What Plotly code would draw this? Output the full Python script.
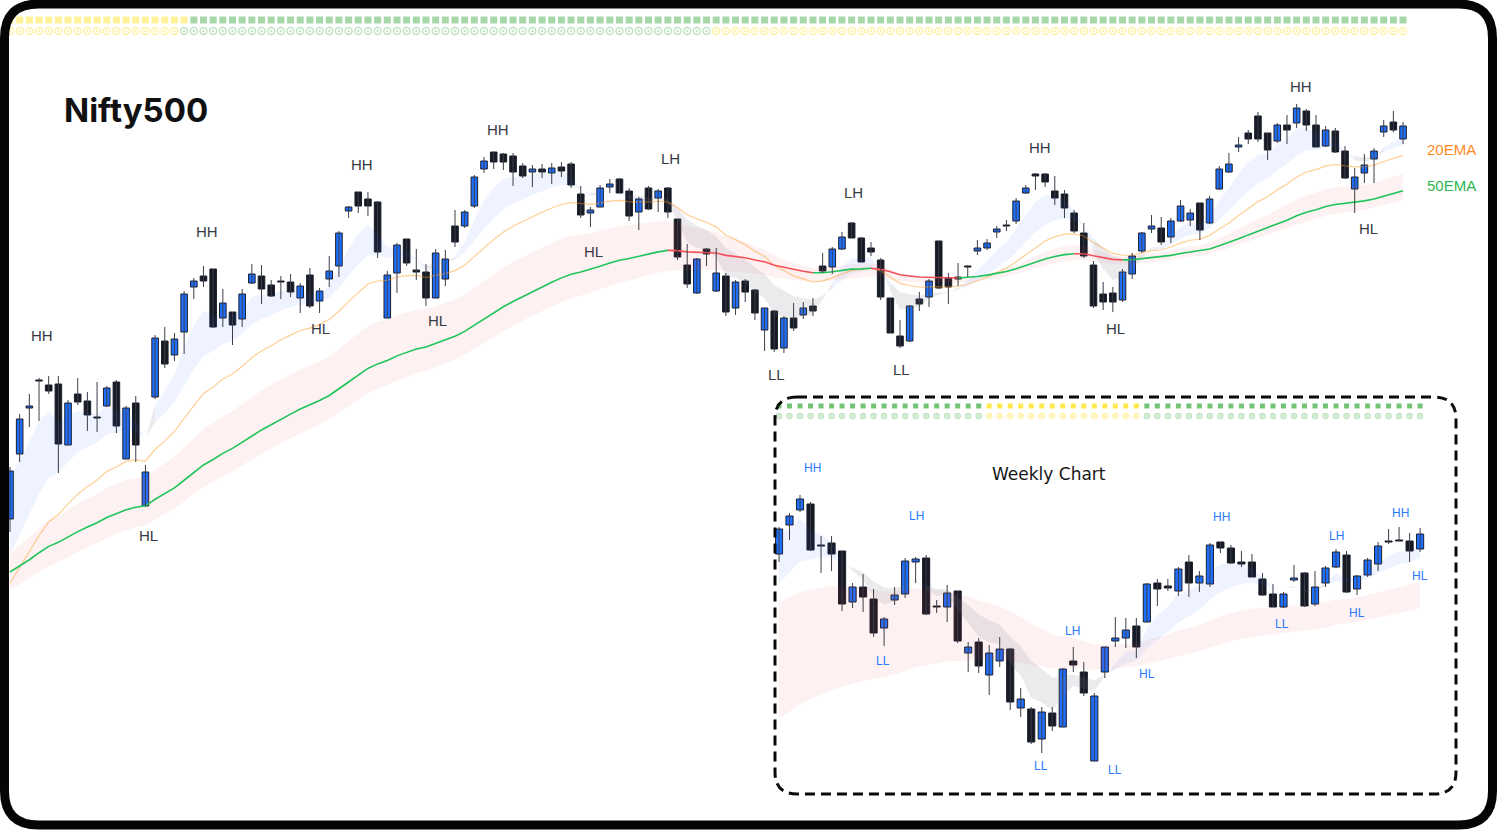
import plotly.graph_objects as go

FIG_W, FIG_H = 1498, 830

# ---------------- Daily Nifty500 candles ----------------
d_open = [481, 546, 592, 619, 615, 616, 555, 606, 599, 582,
          594, 618, 541, 597, 494, 603, 659, 645, 668, 713,
          724, 731, 682, 688, 681, 717, 724, 715, 718, 718,
          702, 725, 699, 721, 734, 789, 808, 801, 798, 682,
          727, 761, 730, 728, 702, 721, 774, 774, 794, 831,
          848, 846, 844, 834, 828, 831, 827, 833, 836, 806,
          787, 793, 813, 821, 809, 788, 812, 802, 812, 781,
          735, 707, 751, 709, 724, 692, 719, 710, 670, 689,
          652, 682, 685, 694, 734, 733, 751, 777, 762, 752,
          740, 702, 664, 659, 701, 703, 759, 722, 723, 733,
          749, 752, 768, 774, 779, 807, 826, 826, 809, 806,
          787, 767, 735, 706, 707, 700, 726, 749, 771, 772,
          763, 779, 780, 797, 777, 811, 828, 853, 867, 884,
          867, 859, 875, 877, 889, 875, 854, 869, 849, 811,
          827, 841, 868, 878, 861]
d_high = [533, 586, 606, 622, 624, 624, 600, 622, 608, 618,
          614, 620, 594, 604, 535, 665, 673, 667, 709, 722,
          734, 731, 711, 688, 711, 736, 735, 720, 724, 726,
          717, 732, 712, 744, 769, 794, 808, 808, 799, 729,
          757, 761, 751, 736, 751, 750, 790, 790, 825, 843,
          848, 847, 847, 837, 835, 836, 837, 838, 838, 814,
          793, 815, 821, 822, 812, 803, 814, 811, 813, 781,
          756, 742, 752, 752, 727, 720, 721, 711, 692, 690,
          684, 697, 698, 702, 747, 753, 768, 778, 763, 758,
          742, 702, 680, 695, 708, 721, 759, 727, 737, 735,
          760, 761, 774, 780, 802, 815, 827, 827, 824, 810,
          790, 777, 739, 718, 713, 731, 747, 768, 785, 783,
          782, 800, 791, 797, 804, 834, 847, 863, 870, 888,
          867, 877, 885, 896, 891, 885, 874, 872, 854, 832,
          846, 852, 880, 889, 878]
d_low = [468, 538, 573, 579, 606, 527, 555, 595, 569, 568,
         593, 567, 541, 538, 494, 601, 632, 639, 646, 701,
         713, 672, 673, 655, 673, 716, 696, 703, 701, 703,
         687, 692, 687, 713, 723, 782, 787, 784, 742, 682,
         707, 734, 720, 694, 702, 714, 753, 772, 792, 827,
         831, 830, 814, 822, 813, 822, 816, 823, 812, 782,
         773, 793, 807, 807, 779, 770, 790, 788, 782, 740,
         712, 706, 734, 708, 684, 685, 698, 680, 649, 648,
         647, 669, 681, 684, 727, 726, 750, 762, 738, 744,
         700, 667, 652, 658, 689, 693, 711, 696, 714, 723,
         745, 750, 762, 769, 776, 806, 810, 813, 795, 782,
         767, 742, 692, 690, 688, 698, 721, 747, 767, 755,
         757, 778, 774, 760, 776, 810, 827, 848, 856, 858,
         840, 857, 856, 872, 869, 853, 853, 847, 821, 787,
         817, 817, 863, 868, 856]
d_close = [529, 581, 594, 619, 609, 556, 597, 598, 585, 582,
           612, 574, 592, 555, 528, 662, 636, 661, 706, 719,
           719, 673, 697, 675, 706, 726, 711, 704, 718, 708,
           714, 694, 709, 729, 767, 793, 794, 794, 748, 725,
           755, 737, 728, 702, 747, 741, 758, 788, 823, 839,
           838, 838, 828, 824, 831, 828, 832, 829, 815, 785,
           790, 812, 816, 807, 784, 801, 791, 809, 788, 743,
           716, 741, 746, 727, 688, 718, 708, 687, 692, 651,
           682, 672, 692, 689, 729, 751, 763, 762, 738, 748,
           703, 667, 654, 694, 696, 719, 712, 713, 721, 733,
           752, 757, 771, 774, 799, 812, 824, 818, 802, 792,
           769, 744, 694, 698, 698, 728, 744, 767, 774, 758,
           779, 794, 787, 770, 801, 831, 836, 855, 861, 861,
           850, 875, 870, 892, 875, 853, 870, 848, 822, 823,
           835, 849, 874, 870, 874]

# EMA values at the first visible daily bar (carried over from earlier history)
d_ema_start = {5: 520, 12: 445, 20: 417, 34: 447, 50: 428, 60: 410}

# Swing labels on the daily chart: bar position, text, level
d_swing_pos = [3.3, 20.4, 36.4, 50.4, 68.3, 87.2, 106.5, 133.5,
               14.3, 32.1, 44.2, 60.3, 79.2, 92.2, 114.3, 140.4]
d_swing_text = ["HH", "HH", "HH", "HH", "LH", "LH", "HH", "HH",
                "HL", "HL", "HL", "HL", "LL", "LL", "HL", "HL"]
d_swing_level = [665, 769, 836, 871, 842, 808, 853, 914,
                 465, 672, 680, 749, 626, 631, 672, 772]

# Trend-state dots along the top of the daily chart (state, number of bars)
d_square_runs = [("bear", 19), ("bull", 126)]
d_circle_runs = [("bear", 18), ("bull", 55), ("bear", 72)]

# ---------------- Weekly candles ----------------
w_open = [446, 475, 490, 496, 454, 457, 449, 398, 413, 401,
          372, 400, 406, 438, 442, 393, 393, 409, 347, 358,
          325, 339, 351, 292, 291, 261, 287, 273, 339, 328,
          239, 328, 359, 362, 374, 378, 417, 414, 409, 438,
          417, 416, 458, 452, 438, 438, 421, 406, 393, 420,
          427, 396, 417, 433, 445, 411, 425, 436, 458, 460,
          459, 451]
w_high = [473, 487, 505, 498, 464, 464, 449, 417, 426, 411,
          383, 413, 442, 443, 445, 400, 415, 409, 358, 362,
          355, 363, 352, 312, 293, 293, 293, 332, 353, 338,
          307, 353, 383, 382, 382, 417, 421, 421, 433, 445,
          429, 457, 458, 455, 449, 446, 427, 416, 408, 435,
          428, 429, 434, 451, 449, 425, 442, 458, 471, 473,
          467, 472]
w_low = [438, 460, 488, 449, 427, 429, 389, 392, 388, 363,
         354, 395, 402, 417, 385, 387, 378, 357, 328, 327,
         305, 333, 290, 283, 256, 247, 269, 273, 328, 304,
         239, 322, 353, 352, 342, 378, 394, 409, 404, 403,
         408, 413, 447, 436, 433, 423, 404, 393, 392, 418,
         393, 394, 413, 432, 407, 405, 423, 429, 456, 459,
         438, 448]
w_close = [471, 484, 501, 450, 454, 446, 396, 413, 403, 367,
           381, 405, 439, 441, 386, 393, 407, 359, 353, 334,
           347, 351, 298, 301, 258, 288, 274, 331, 335, 307,
           304, 353, 362, 370, 353, 416, 411, 412, 431, 417,
           424, 455, 452, 437, 436, 423, 405, 393, 406, 422,
           394, 413, 432, 448, 408, 424, 440, 454, 458, 459,
           449, 466]

w_ema_start = {5: 465, 12: 417, 34: 397, 60: 282}

w_swing_pos = [3.14, 13.04, 9.9, 24.93, 27.97, 31.97, 35.01,
               42.06, 47.86, 53.0, 55.0, 59.09, 61.0]
w_swing_text = ["HH", "LH", "LL", "LL", "LH", "LL", "HL",
                "HH", "LL", "LH", "HL", "HH", "HL"]
w_swing_level = [532, 484, 339, 234, 369, 230, 326,
                 483, 376, 464, 387, 487, 424]

w_square_runs = [("bull", 20), ("bear", 15), ("bull", 27)]
w_circle_runs = [("bull", 20), ("bear", 15), ("bull", 27)]

# ---------------- layout geometry (pixels) ----------------
D_X0, D_STEP = 10.0, 9.674          # first daily bar centre, bar spacing
D_YMIN, D_YMAX = 170, 1000          # daily price range over full height
W_BOX = (775, 396, 1456, 794)       # inset box: left, top, right, bottom
W_X0, W_STEP = 779.0, 10.51
W_YMIN, W_YMAX = 206, 604

UP_FILL = "#1E6FFF"
DOWN_FILL = "#161A25"
OUTLINE = "#1B1F2B"
WICK = "#3C3F48"


def ema(values, period, seed):
    a = 2.0 / (period + 1)
    out = [float(seed)]
    for v in values[1:]:
        out.append(out[-1] + a * (v - out[-1]))
    return out


def expand(runs):
    states = []
    for state, n in runs:
        states.extend([state] * n)
    return states


def add_candles(fig, o, h, l, c, xa, ya, width):
    x = list(range(len(o)))
    wx, wy = [], []
    for i in x:
        wx += [i, i, None]
        wy += [l[i], h[i], None]
    fig.add_trace(go.Scatter(x=wx, y=wy, mode="lines",
                             line=dict(color=WICK, width=1),
                             xaxis=xa, yaxis=ya, hoverinfo="skip"))
    for up in (True, False):
        idx = [i for i in x if (c[i] > o[i]) == up]
        base = [min(o[i], c[i]) for i in idx]
        hgt = [max(abs(c[i] - o[i]), 1.0) for i in idx]
        fig.add_trace(go.Bar(x=idx, y=hgt, base=base, width=width,
                             marker=dict(color=UP_FILL if up else DOWN_FILL,
                                         line=dict(color=OUTLINE, width=1)),
                             xaxis=xa, yaxis=ya, hoverinfo="skip"))


def add_band(fig, upper, lower, color, xa, ya):
    x = list(range(len(upper)))
    fig.add_trace(go.Scatter(x=x + x[::-1], y=upper + lower[::-1],
                             fill="toself", fillcolor=color, mode="lines",
                             line=dict(width=0), xaxis=xa, yaxis=ya,
                             hoverinfo="skip"))


def add_trend_cloud(fig, fast, slow, bull_col, bear_col, xa, ya):
    n = len(fast)
    start = 0
    for i in range(1, n + 1):
        if i == n or (fast[i] >= slow[i]) != (fast[start] >= slow[start]):
            end = min(i, n - 1)
            xs = list(range(start, end + 1))
            up = [fast[k] for k in xs]
            lo = [slow[k] for k in xs]
            col = bull_col if fast[start] >= slow[start] else bear_col
            fig.add_trace(go.Scatter(x=xs + xs[::-1], y=up + lo[::-1],
                                     fill="toself", fillcolor=col,
                                     mode="lines", line=dict(width=0),
                                     xaxis=xa, yaxis=ya, hoverinfo="skip"))
            start = i


def add_state_dots(fig, states, level, symbol, size, colors, xa, ya, open_marker=False):
    for state, col in colors.items():
        xs = [i for i, s in enumerate(states) if s == state]
        marker = dict(symbol=symbol, size=size, color=col)
        if open_marker:
            marker["line"] = dict(width=1.4, color=col)
        else:
            marker["line"] = dict(width=0)
        fig.add_trace(go.Scatter(x=xs, y=[level] * len(xs), mode="markers",
                                 marker=marker, xaxis=xa, yaxis=ya,
                                 hoverinfo="skip"))


def px(x):
    return x / FIG_W


def py(y):
    return 1 - y / FIG_H


def rounded_rect(x0, y0, x1, y1, r):
    pts = [
        f"M {px(x0 + r)},{py(y0)}", f"L {px(x1 - r)},{py(y0)}",
        f"Q {px(x1)},{py(y0)} {px(x1)},{py(y0 + r)}", f"L {px(x1)},{py(y1 - r)}",
        f"Q {px(x1)},{py(y1)} {px(x1 - r)},{py(y1)}", f"L {px(x0 + r)},{py(y1)}",
        f"Q {px(x0)},{py(y1)} {px(x0)},{py(y1 - r)}", f"L {px(x0)},{py(y0 + r)}",
        f"Q {px(x0)},{py(y0)} {px(x0 + r)},{py(y0)}", "Z",
    ]
    return " ".join(pts)


fig = go.Figure()

# ---------------- daily chart ----------------
d_e = {p: ema(d_close, p, s) for p, s in d_ema_start.items()}

add_band(fig, d_e[34], d_e[60], "rgba(242,54,69,0.07)", "x", "y")
add_trend_cloud(fig, d_e[5], d_e[12], "rgba(41,98,255,0.08)",
                "rgba(120,123,134,0.15)", "x", "y")

dx = list(range(len(d_close)))
fig.add_trace(go.Scatter(x=dx, y=d_e[20], mode="lines",
                         line=dict(color="rgba(255,160,40,0.5)", width=1.2),
                         xaxis="x", yaxis="y", hoverinfo="skip"))

# 50 EMA coloured by slope
e50 = d_e[50]
rising = [e50[i + 1] >= e50[i] for i in range(len(e50) - 1)]
for want, col in ((True, "#1FC45B"), (False, "#F5515B")):
    ys = []
    for i in range(len(e50)):
        left = i > 0 and rising[i - 1] == want
        right = i < len(rising) and rising[i] == want
        ys.append(e50[i] if (left or right) else None)
    fig.add_trace(go.Scatter(x=dx, y=ys, mode="lines",
                             line=dict(color=col, width=1.6),
                             connectgaps=False, xaxis="x", yaxis="y",
                             hoverinfo="skip"))

add_candles(fig, d_open, d_high, d_low, d_close, "x", "y", 0.68)

add_state_dots(fig, expand(d_square_runs), 980, "square", 7,
               {"bull": "#A8D8AA", "bear": "#FFF29A"}, "x", "y")
add_state_dots(fig, expand(d_circle_runs), 969, "circle-open-dot", 7,
               {"bull": "#BDE3C0", "bear": "#FFF0A3"}, "x", "y", open_marker=True)

# ---------------- weekly inset ----------------
w_e = {p: ema(w_close, p, s) for p, s in w_ema_start.items()}
add_band(fig, w_e[34], w_e[60], "rgba(242,54,69,0.07)", "x2", "y2")
add_trend_cloud(fig, w_e[5], w_e[12], "rgba(41,98,255,0.08)",
                "rgba(120,123,134,0.15)", "x2", "y2")
add_candles(fig, w_open, w_high, w_low, w_close, "x2", "y2", 0.68)
add_state_dots(fig, expand(w_square_runs), 594, "square", 5,
               {"bull": "#74C476", "bear": "#FFE84D"}, "x2", "y2")
add_state_dots(fig, expand(w_circle_runs), 584, "circle-open-dot", 5,
               {"bull": "#BFE3C0", "bear": "#FFF2A8"}, "x2", "y2", open_marker=True)

# ---------------- annotations ----------------
ann = []
for p, t, lv in zip(d_swing_pos, d_swing_text, d_swing_level):
    ann.append(dict(x=p, y=lv, xref="x", yref="y", text=t, showarrow=False,
                    font=dict(family="Liberation Sans", size=15, color="#363A45")))
for p, t, lv in zip(w_swing_pos, w_swing_text, w_swing_level):
    ann.append(dict(x=p, y=lv, xref="x2", yref="y2", text=t, showarrow=False,
                    font=dict(family="Liberation Sans", size=12, color="#2979FF")))

ann.append(dict(x=px(62), y=py(110), xref="paper", yref="paper", text="<b>Nifty500</b>",
                xanchor="left", yanchor="middle", showarrow=False,
                font=dict(family="Inter", size=33, color="#111111")))
ann.append(dict(x=px(1425), y=py(149), xref="paper", yref="paper", text="20EMA",
                xanchor="left", yanchor="middle", showarrow=False,
                font=dict(family="Liberation Sans", size=15, color="#FF8A1E")))
ann.append(dict(x=px(1425), y=py(185), xref="paper", yref="paper", text="50EMA",
                xanchor="left", yanchor="middle", showarrow=False,
                font=dict(family="Liberation Sans", size=15, color="#2DB84F")))
ann.append(dict(x=px(1049), y=py(474), xref="paper", yref="paper", text="Weekly Chart",
                xanchor="center", yanchor="middle", showarrow=False,
                font=dict(family="DejaVu Sans", size=17, color="#161616")))

shapes = [
    dict(type="path", xref="paper", yref="paper",
         path=rounded_rect(4.5, 4, 1492.5, 825, 34),
         line=dict(color="#050505", width=9), layer="above"),
    dict(type="path", xref="paper", yref="paper",
         path=rounded_rect(W_BOX[0], W_BOX[1] + 1, W_BOX[2], W_BOX[3], 22),
         line=dict(color="#0A0A0A", width=3, dash="10px,6px"), layer="above"),
]

hidden = dict(visible=False, showgrid=False, zeroline=False, fixedrange=True)
fig.update_layout(
    width=FIG_W, height=FIG_H,
    margin=dict(l=0, r=0, t=0, b=0),
    paper_bgcolor="white", plot_bgcolor="white",
    showlegend=False, hovermode=False, barmode="overlay",
    xaxis=dict(domain=[0, 1], range=[-D_X0 / D_STEP, (FIG_W - D_X0) / D_STEP], **hidden),
    yaxis=dict(domain=[0, 1], range=[D_YMIN, D_YMAX], **hidden),
    xaxis2=dict(domain=[px(W_BOX[0]), px(W_BOX[2])], anchor="y2",
                range=[(W_BOX[0] - W_X0) / W_STEP, (W_BOX[2] - W_X0) / W_STEP], **hidden),
    yaxis2=dict(domain=[py(W_BOX[3]), py(W_BOX[1])], anchor="x2",
                range=[W_YMIN, W_YMAX], **hidden),
    annotations=ann,
    shapes=shapes,
)

fig.write_html("out.html")
